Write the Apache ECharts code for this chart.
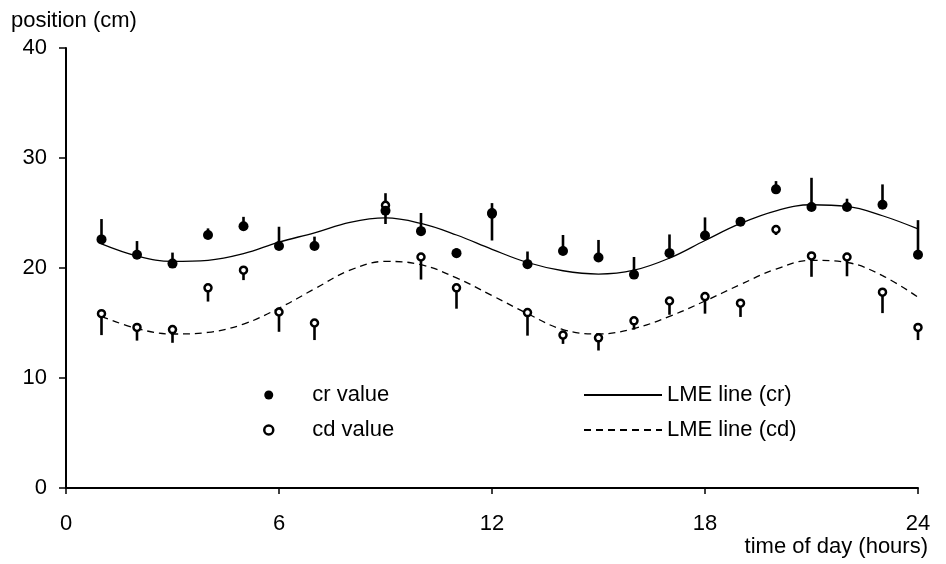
<!DOCTYPE html>
<html>
<head>
<meta charset="utf-8">
<script src="https://cdn.jsdelivr.net/npm/echarts@6/dist/echarts.min.js"></script>
<style>
  html, body { margin: 0; padding: 0; background: #fff; }
  #chart { width: 946px; height: 564px; }
</style>
</head>
<body>
<div id="chart"></div>
<script>
// Hour of day for each observation (no observation at 8 h)
const hours = [1, 2, 3, 4, 5, 6, 7, 9, 10, 11, 12, 13, 14, 15, 16, 17, 18, 19, 20, 21, 22, 23, 24];

// cr: mean position and top of its error bar (cm)
const crValue = [22.6, 21.2, 20.4, 23.0, 23.8, 22.0, 22.0, 25.2, 23.35, 21.35, 25.0, 20.35, 21.55, 20.95, 19.4, 21.35, 22.95, 24.2, 27.15, 25.55, 25.55, 25.75, 21.2];
const crHigh  = [24.45, 22.45, 21.4, 23.6, 24.65, 23.75, 22.85, 26.8, 25.0, 21.8, 25.9, 21.5, 23.0, 22.55, 21.0, 23.05, 24.6, 24.5, 27.9, 28.2, 26.3, 27.6, 24.35];

// cd: mean position and bottom of its error bar (cm)
const cdValue = [15.85, 14.6, 14.4, 18.2, 19.8, 16.0, 15.0, 25.7, 21.0, 18.2, 24.9, 15.95, 13.9, 13.65, 15.2, 17.0, 17.4, 16.8, 23.5, 21.1, 21.0, 17.8, 14.6];
const cdLow   = [13.9, 13.4, 13.2, 16.95, 18.9, 14.2, 13.45, 24.0, 18.95, 16.3, 22.5, 13.85, 13.1, 12.5, 14.4, 15.75, 15.85, 15.55, 23.0, 19.2, 19.25, 15.9, 13.45];

// Fitted LME curves, sampled hourly
const fitHours = [1, 2, 3, 4, 5, 6, 7, 8, 9, 10, 11, 12, 13, 14, 15, 16, 17, 18, 19, 20, 21, 22, 23, 24];
const crFit = [22.2, 21.1, 20.6, 20.7, 21.3, 22.35, 23.2, 24.15, 24.55, 24.05, 23.0, 21.7, 20.5, 19.75, 19.45, 19.8, 20.9, 22.5, 24.05, 25.2, 25.75, 25.6, 24.75, 23.55];
const cdFit = [15.6, 14.5, 14.0, 14.15, 14.9, 16.35, 18.1, 19.8, 20.6, 20.3, 19.1, 17.5, 15.85, 14.4, 14.0, 14.5, 15.6, 17.0, 18.5, 19.9, 20.7, 20.5, 19.3, 17.35];

// Axis ticks
const xTicks = [0, 6, 12, 18, 24];
const yTicks = [0, 10, 20, 30, 40];

const FONT = 'Liberation Sans, Arial, sans-serif';
const FS = 22;

const pairs = (xs, ys) => xs.map((x, i) => [x, ys[i]]);
const bars = (xs, a, b) => xs.map((x, i) => [x, a[i], b[i]]);

function errorBar(params, api) {
  const p0 = api.coord([api.value(0), api.value(1)]);
  const p1 = api.coord([api.value(0), api.value(2)]);
  return {
    type: 'line',
    shape: { x1: p0[0], y1: p0[1], x2: p1[0], y2: p1[1] },
    style: { stroke: '#000', lineWidth: 2.6 }
  };
}

const chart = echarts.init(document.getElementById('chart'), null, { renderer: 'canvas' });
chart.setOption({
  animation: false,
  backgroundColor: '#fff',
  title: [
    { text: 'position (cm)', left: 6, top: 5,
      textStyle: { fontFamily: FONT, fontSize: FS, fontWeight: 'normal', color: '#000' } },
    { text: 'time of day (hours)', right: 13, top: 531,
      textStyle: { fontFamily: FONT, fontSize: FS, fontWeight: 'normal', color: '#000' } }
  ],
  grid: { left: 66, right: 28, top: 48, bottom: 76, containLabel: false },
  xAxis: {
    type: 'value', min: xTicks[0], max: xTicks[xTicks.length - 1], interval: 6,
    axisLine: { show: true, onZero: false, lineStyle: { color: '#000', width: 2 } },
    axisTick: { show: true, length: 6, lineStyle: { color: '#000', width: 1.5 } },
    axisLabel: { margin: 25, fontFamily: FONT, fontSize: FS, color: '#000' },
    splitLine: { show: false }
  },
  yAxis: {
    type: 'value', min: yTicks[0], max: yTicks[yTicks.length - 1], interval: 10,
    axisLine: { show: true, onZero: false, lineStyle: { color: '#000', width: 2 } },
    axisTick: { show: true, length: 7, lineStyle: { color: '#000', width: 1.5 } },
    axisLabel: { margin: 19, fontFamily: FONT, fontSize: FS, color: '#000' },
    splitLine: { show: false }
  },
  legend: [
    {
      data: [
        { name: 'cr value', icon: 'circle' },
        { name: 'cd value', icon: 'circle', itemStyle: { color: '#fff', borderColor: '#000', borderWidth: 2.5 } }
      ],
      orient: 'vertical', left: 258, top: 379,
      itemWidth: 9, itemHeight: 9, itemGap: 13,
      selectedMode: false,
      textStyle: { fontFamily: FONT, fontSize: FS, color: '#000', padding: [0, 0, 0, 34] }
    },
    {
      data: ['LME line (cr)', 'LME line (cd)'],
      orient: 'vertical', left: 578, top: 379,
      itemWidth: 78, itemHeight: 10, itemGap: 13,
      selectedMode: false,
      itemStyle: { opacity: 0, borderWidth: 0 },
      textStyle: { fontFamily: FONT, fontSize: FS, color: '#000' }
    }
  ],
  series: [
    {
      name: 'LME line (cr)', type: 'line', data: pairs(fitHours, crFit),
      smooth: 0.4, symbol: 'none', z: 2,
      lineStyle: { color: '#000', width: 1.3, type: 'solid' },
      itemStyle: { color: '#000' }
    },
    {
      name: 'LME line (cd)', type: 'line', data: pairs(fitHours, cdFit),
      smooth: 0.4, symbol: 'none', z: 2,
      lineStyle: { color: '#000', width: 1.3, type: [7, 5] },
      itemStyle: { color: '#000' }
    },
    {
      name: 'cd bars', type: 'custom', renderItem: errorBar,
      data: bars(hours, cdValue, cdLow), z: 3, encode: { x: 0, y: [1, 2] }
    },
    {
      name: 'cr bars', type: 'custom', renderItem: errorBar,
      data: bars(hours, crValue, crHigh), z: 3, encode: { x: 0, y: [1, 2] }
    },
    {
      name: 'cd value', type: 'scatter', data: pairs(hours, cdValue),
      symbol: 'circle', symbolSize: 7, z: 4,
      itemStyle: { color: '#fff', borderColor: '#000', borderWidth: 2.5, opacity: 1 }
    },
    {
      name: 'cr value', type: 'scatter', data: pairs(hours, crValue),
      symbol: 'circle', symbolSize: 10, z: 5,
      itemStyle: { color: '#000', opacity: 1 }
    }
  ]
});
</script>
</body>
</html>
